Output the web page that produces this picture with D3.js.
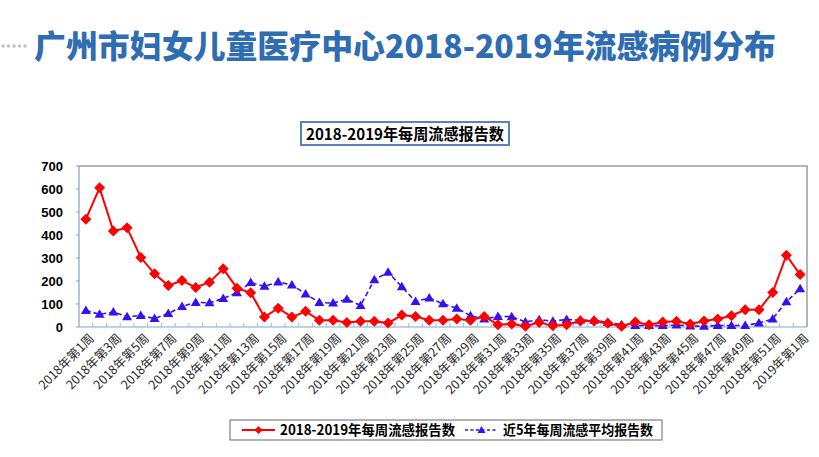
<!DOCTYPE html>
<html>
<head>
<meta charset="utf-8">
<script src="https://cdn.jsdelivr.net/npm/d3@7"></script>
<style>
  html, body { margin: 0; padding: 0; background: #fff; }
  svg { display: block; }
</style>
</head>
<body>
<svg id="chart" width="819" height="457"></svg>
<script>
/* ── data ─────────────────────────────────────────────────────────── */

const weeks = [
  '2018年第1周','2018年第2周','2018年第3周','2018年第4周','2018年第5周','2018年第6周',
  '2018年第7周','2018年第8周','2018年第9周','2018年第10周','2018年第11周','2018年第12周',
  '2018年第13周','2018年第14周','2018年第15周','2018年第16周','2018年第17周','2018年第18周',
  '2018年第19周','2018年第20周','2018年第21周','2018年第22周','2018年第23周','2018年第24周',
  '2018年第25周','2018年第26周','2018年第27周','2018年第28周','2018年第29周','2018年第30周',
  '2018年第31周','2018年第32周','2018年第33周','2018年第34周','2018年第35周','2018年第36周',
  '2018年第37周','2018年第38周','2018年第39周','2018年第40周','2018年第41周','2018年第42周',
  '2018年第43周','2018年第44周','2018年第45周','2018年第46周','2018年第47周','2018年第48周',
  '2018年第49周','2018年第50周','2018年第51周','2018年第52周','2019年第1周'
];

// 2018-2019年每周流感报告数
const reports = [
  469, 605, 417, 431, 302, 231, 180, 202, 172, 195, 253, 169,
  149, 43, 82, 43, 68, 29, 29, 20, 25, 25, 17, 52,
  46, 29, 29, 35, 29, 46, 10, 13, 3, 20, 5, 10,
  26, 26, 16, 3, 22, 10, 22, 25, 13, 26, 35, 49,
  75, 75, 150, 312, 228
];

// 近5年每周流感平均报告数
const avg5y = [
  72, 55, 65, 45, 50, 37, 59, 89, 107, 105, 124, 149,
  193, 177, 196, 183, 143, 107, 104, 121, 94, 205, 238, 175,
  111, 126, 101, 82, 49, 35, 46, 45, 22, 32, 25, 33,
  30, 29, 20, 10, 7, 6, 6, 9, 4, 3, 7, 6,
  7, 17, 35, 110, 166
];

const yTicks = [0, 100, 200, 300, 400, 500, 600, 700];

const pageTitle  = '广州市妇女儿童医疗中心2018-2019年流感病例分布';
const chartTitle = '2018-2019年每周流感报告数';
const seriesNames = ['2018-2019年每周流感报告数', '近5年每周流感平均报告数'];

/* ── setup ────────────────────────────────────────────────────────── */

const RED  = '#ff0000';
const BLUE = '#3510f0';
const CJK  = '"Noto Sans CJK SC", "Liberation Sans", sans-serif';
const LAT  = '"Liberation Sans", Arial, sans-serif';

const svg = d3.select('#chart');
const plot = { left: 79, right: 807, top: 166, bottom: 327 };

const x = d3.scaleBand().domain(weeks).range([plot.left, plot.right]).padding(0);
const y = d3.scaleLinear().domain([0, 700]).range([plot.bottom, plot.top]);
const cx = d => x(d) + x.bandwidth() / 2;

/* ── page title ───────────────────────────────────────────────────── */

svg.append('g').selectAll('circle').data([3, 8.5, 14, 19.5, 25]).join('circle')
  .attr('cx', d => d).attr('cy', 46).attr('r', 1.8).attr('fill', '#c4c4c4');

svg.append('text')
  .attr('x', 34).attr('y', 58)
  .attr('textLength', 742).attr('lengthAdjust', 'spacingAndGlyphs')
  .attr('font-family', CJK).attr('font-weight', 900).attr('font-size', 32)
  .attr('fill', '#2f6db3')
  .text(pageTitle);

/* ── chart title box ──────────────────────────────────────────────── */

svg.append('rect')
  .attr('x', 301).attr('y', 122).attr('width', 208).attr('height', 23)
  .attr('fill', '#fff').attr('stroke', '#5a82bb').attr('stroke-width', 2);

svg.append('text')
  .attr('x', 405).attr('y', 139.5).attr('text-anchor', 'middle')
  .attr('textLength', 198).attr('lengthAdjust', 'spacingAndGlyphs')
  .attr('font-family', CJK).attr('font-weight', 700).attr('font-size', 15.5)
  .attr('fill', '#000')
  .text(chartTitle);

/* ── frame & axes ─────────────────────────────────────────────────── */

// grey frame top + right
svg.append('path')
  .attr('d', `M${plot.left},${plot.top}H${plot.right}V${plot.bottom}`)
  .attr('fill', 'none').attr('stroke', '#b4b4b4').attr('stroke-width', 2);

// left axis
svg.append('line')
  .attr('x1', plot.left).attr('x2', plot.left)
  .attr('y1', plot.top).attr('y2', plot.bottom)
  .attr('stroke', '#7f9fc8').attr('stroke-width', 1.2);

svg.append('g').selectAll('line').data(yTicks).join('line')
  .attr('x1', plot.left - 3).attr('x2', plot.left)
  .attr('y1', d => y(d)).attr('y2', d => y(d))
  .attr('stroke', '#7f9fc8');

svg.append('g').selectAll('text').data(yTicks).join('text')
  .attr('x', 63).attr('y', d => y(d) + 4.5).attr('text-anchor', 'end')
  .attr('font-family', LAT).attr('font-weight', 700).attr('font-size', 13)
  .attr('fill', '#000')
  .text(d => d);

// bottom axis
svg.append('line')
  .attr('x1', plot.left).attr('x2', plot.right)
  .attr('y1', plot.bottom).attr('y2', plot.bottom)
  .attr('stroke', '#7fa6d4').attr('stroke-width', 1.2);

svg.append('g').selectAll('line').data(weeks.slice(1)).join('line')
  .attr('x1', d => x(d)).attr('x2', d => x(d))
  .attr('y1', plot.bottom).attr('y2', plot.bottom - 4)
  .attr('stroke', '#9dbbe0');

svg.append('g').selectAll('text').data(weeks.filter((d, i) => i % 2 === 0)).join('text')
  .attr('transform', d => `translate(${cx(d) + 6},${plot.bottom + 9}) rotate(-45)`)
  .attr('text-anchor', 'end').attr('dy', '0.35em')
  .attr('font-family', CJK).attr('font-size', 12.5)
  .attr('fill', '#2a2a2a')
  .text(d => d);

/* ── series ───────────────────────────────────────────────────────── */

const line = d3.line().x((d, i) => cx(weeks[i])).y(d => y(d));

svg.append('path').datum(avg5y)
  .attr('d', line).attr('fill', 'none')
  .attr('stroke', BLUE).attr('stroke-width', 1.6).attr('stroke-dasharray', '5,3');

svg.append('path').datum(reports)
  .attr('d', line).attr('fill', 'none')
  .attr('stroke', RED).attr('stroke-width', 2);

const tri = 'M0,-5L5,3.5L-5,3.5Z';
const dia = 'M0,-5.5L5.5,0L0,5.5L-5.5,0Z';

svg.append('g').selectAll('path').data(avg5y).join('path')
  .attr('transform', (d, i) => `translate(${cx(weeks[i])},${y(d)})`)
  .attr('d', tri).attr('fill', BLUE);

svg.append('g').selectAll('path').data(reports).join('path')
  .attr('transform', (d, i) => `translate(${cx(weeks[i])},${y(d)})`)
  .attr('d', dia).attr('fill', RED);

/* ── legend ───────────────────────────────────────────────────────── */

const lg = svg.append('g');
lg.append('rect')
  .attr('x', 230).attr('y', 420).attr('width', 432).attr('height', 20)
  .attr('fill', '#fff').attr('stroke', '#666').attr('stroke-width', 1);

lg.append('line').attr('x1', 242).attr('x2', 275).attr('y1', 430).attr('y2', 430)
  .attr('stroke', RED).attr('stroke-width', 2);
lg.append('path').attr('transform', 'translate(258.5,430)')
  .attr('d', 'M0,-4L4,0L0,4L-4,0Z').attr('fill', RED);

lg.append('line').attr('x1', 465).attr('x2', 498).attr('y1', 430).attr('y2', 430)
  .attr('stroke', BLUE).attr('stroke-width', 1.4).attr('stroke-dasharray', '3,2.5');
lg.append('path').attr('transform', 'translate(481.5,430)')
  .attr('d', 'M0,-4L4,3L-4,3Z').attr('fill', BLUE);

lg.selectAll('text.lab').data(seriesNames).join('text')
  .attr('class', 'lab')
  .attr('x', (d, i) => i ? 503 : 280).attr('y', 435)
  .attr('textLength', (d, i) => i ? 150 : 175).attr('lengthAdjust', 'spacingAndGlyphs')
  .attr('font-family', CJK).attr('font-weight', 700).attr('font-size', 14)
  .attr('fill', '#000')
  .text(d => d);
</script>
</body>
</html>
